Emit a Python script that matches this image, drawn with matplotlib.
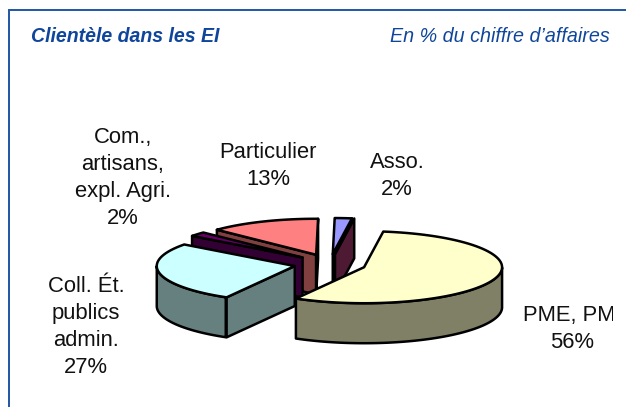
import numpy as np
import matplotlib
matplotlib.use('Agg')
import matplotlib.pyplot as plt
from matplotlib.patches import Polygon, Rectangle

plt.rcParams['font.family'] = ['Liberation Sans', 'DejaVu Sans']

# slices, clockwise from the top (the empty one only shows as a wall)
labels = ['Asso.\n2%', '', 'PME, PMI\n56%', 'Coll. Ét.\npublics\nadmin.\n27%',
          'Com.,\nartisans,\nexpl. Agri.\n2%', 'Particulier\n13%']
values = [2, 0, 56, 27, 2, 13]
top_colors = ['#9999FF', '#993366', '#FFFFCC', '#CCFFFF', '#660066', '#FF8080']
side_colors = ['#4D4D80', '#4D1933', '#808066', '#668080', '#330033', '#804040']
label_x = [397, 0, 572, 86, 123, 268]
label_y = [176, 0, 329, 327, 178, 166]
draw_order = [0, 1, 5, 4, 3, 2]  # back to front

title_left = 'Clientèle dans les EI'
title_right = 'En % du chiffre d\u2019affaires'
blue = '#0F469B'

fig = plt.figure(figsize=(6.26, 4.07), dpi=100)
ax = fig.add_axes([0, 0, 1, 1])
ax.set_xlim(0, 626)
ax.set_ylim(407, 0)
ax.axis('off')

# pie layout, in pixels
cx, cy = 330, 264
rx, ry = 138, 36
ex, ey = 36, 10
depth = 40
start = 89.2
lw = 1.8


def rim(x0, y0, t1, t2):
    t = np.radians(np.linspace(t1, t2, 80))
    return np.column_stack([x0 + rx * np.cos(t), y0 - ry * np.sin(t)])


def wall(x0, y0, t):
    p = rim(x0, y0, t, t)[0]
    pts = [(x0, y0), p, (p[0], p[1] + depth), (x0, y0 + depth)]
    return pts


ends = start - np.cumsum(values) * 3.6
starts = ends + np.array(values) * 3.6

for i in draw_order:
    t1 = starts[i]
    t2 = ends[i]
    mid = np.radians((t1 + t2) / 2)
    x0 = cx + ex * np.cos(mid)
    y0 = cy - ey * np.sin(mid)
    side = dict(fc=side_colors[i], ec='black', lw=lw, joinstyle='round')

    # cut faces turned to the viewer
    if np.cos(np.radians(t1)) < 0:
        ax.add_patch(Polygon(wall(x0, y0, t1), **side))
    if np.cos(np.radians(t2)) > 0:
        ax.add_patch(Polygon(wall(x0, y0, t2), **side))

    # outer side, front half of the ellipse only
    ts = np.arange(np.floor(t2), t1, 0.5)
    front = ts[np.sin(np.radians(ts)) < 0]
    if values[i] > 0 and len(front) > 0:
        arc = rim(x0, y0, front.max(), max(front.min(), t2))
        low = arc + [0, depth]
        ax.add_patch(Polygon(np.vstack([arc, low[::-1]]), **side))

    # top face
    ax.add_patch(Polygon(np.vstack([[(x0, y0)], rim(x0, y0, t1, t2)]),
                         fc=top_colors[i], ec='black', lw=lw, joinstyle='round'))

for i in range(len(labels)):
    if labels[i]:
        txt = ax.text(label_x[i], label_y[i], labels[i], fontsize=15.8, color='#111111',
                      ha='center', va='center', linespacing=1.39)
        txt.set_clip_on(True)
        txt.set_clip_path(Rectangle((0, 0), 613, 407, transform=ax.transData))

# frame, open on the right and at the bottom
ax.plot([8.5, 8.5, 626], [407, 10, 10], color='#1F56A5', lw=1.4, solid_joinstyle='miter')

ax.text(31, 36, title_left, fontsize=14.05, fontweight='bold', fontstyle='italic',
        color=blue, ha='left', va='center')
ax.text(610, 36, title_right, fontsize=14.25, fontstyle='italic',
        color=blue, ha='right', va='center')

fig.savefig('out.png', dpi=100)
